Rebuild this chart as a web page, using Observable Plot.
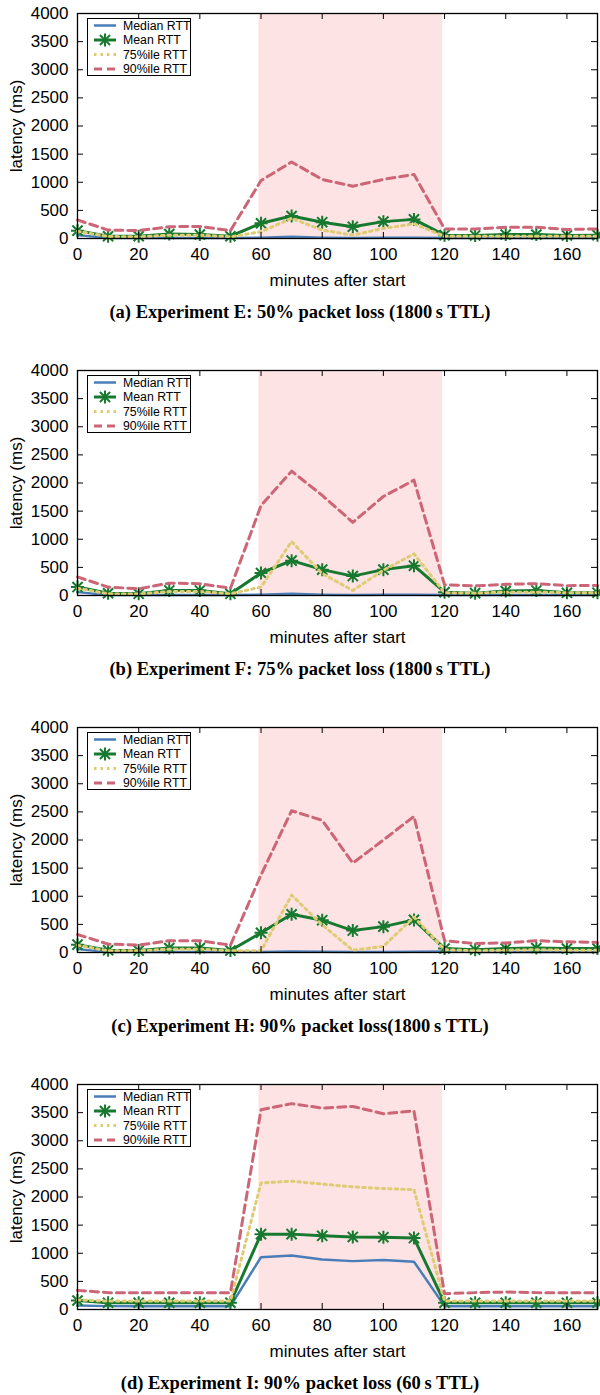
<!DOCTYPE html>
<html><head><meta charset="utf-8">
<script src="https://cdn.jsdelivr.net/npm/d3@7"></script>
<script src="https://cdn.jsdelivr.net/npm/@observablehq/plot@0.6"></script>
<style>
body{margin:0;background:#fff;width:600px;}
.panel{position:relative;width:600px;height:357px;overflow:hidden;}
.panel svg.plot{display:block;}
.caption{position:absolute;left:0;width:600px;top:300px;text-align:center;font-family:"Liberation Serif",serif;font-weight:bold;font-size:18.5px;line-height:24px;color:#000;}
.legend{position:absolute;left:87px;top:18px;width:104px;height:58px;border:1.3px solid #000;background:#fff;box-sizing:border-box;}
</style>
</head><body>
<div id="root"></div>
<script>
// ---- data ----
const minutes = [0,10,20,30,40,50,60,70,80,90,100,110,120,130,140,150,160,170];
const xTicks = [0,20,40,60,80,100,120,140,160];
const yTicks = [0,500,1000,1500,2000,2500,3000,3500,4000];
const lossWindow = [59.3, 119.3];
const seriesNames = ["Median RTT","Mean RTT","75%ile RTT","90%ile RTT"];
const captions = [
  "(a) Experiment E: 50% packet loss (1800\u2009s TTL)",
  "(b) Experiment F: 75% packet loss (1800\u2009s TTL)",
  "(c) Experiment H: 90% packet loss(1800\u2009s TTL)",
  "(d) Experiment I: 90% packet loss (60\u2009s TTL)"
];

// Experiment E
const medianE = [60,10,10,10,10,10,15,30,15,10,15,15,10,10,10,10,10,10];
const meanE   = [140,40,40,80,70,40,270,400,290,210,300,340,60,55,70,70,55,60];
const p75E    = [130,35,30,60,60,30,120,360,150,60,180,260,40,40,40,40,40,40];
const p90E    = [330,150,140,210,215,140,1030,1360,1050,930,1050,1140,170,170,200,200,160,170];
// Experiment F
const medianF = [60,10,10,10,10,10,15,30,15,10,15,15,10,10,10,10,10,10];
const meanF   = [150,40,30,90,90,30,400,620,460,345,460,530,60,42,80,90,48,50];
const p75F    = [130,30,25,70,70,30,150,960,390,90,450,740,48,42,60,60,50,50];
const p90F    = [330,150,120,220,210,130,1600,2210,1780,1300,1760,2050,190,170,200,210,175,180];
// Experiment H
const medianH = [60,10,10,10,10,10,10,20,15,10,10,15,20,10,10,10,10,10];
const meanH   = [140,40,35,80,80,35,350,680,575,390,460,580,70,50,70,80,70,70];
const p75H    = [130,30,30,60,60,30,30,1020,490,40,110,630,50,30,40,50,40,40];
const p90H    = [320,150,130,210,210,130,1380,2520,2350,1590,2000,2420,210,160,170,210,190,180];
// Experiment I
const medianI = [70,60,60,60,60,60,930,960,890,860,880,850,60,60,60,60,60,60];
const meanI   = [160,120,120,120,120,120,1340,1340,1310,1290,1285,1270,120,120,120,120,120,120];
const p75I    = [170,150,150,150,150,150,2250,2280,2230,2180,2150,2130,150,150,150,150,150,150];
const p90I    = [340,300,300,300,300,300,3550,3660,3580,3610,3480,3530,280,300,310,300,300,300];

const experiments = [
  [medianE, meanE, p75E, p90E],
  [medianF, meanF, p75F, p90F],
  [medianH, meanH, p75H, p90H],
  [medianI, meanI, p75I, p90I]
];

// ---- styles ----
const BLUE = "#4a7db8", GREEN = "#17792f", YELLOW = "#dfcb73", PINK = "#cc6677", SHADE = "#fde3e4";
const styles = [
  {stroke: BLUE,   strokeWidth: 2.5, strokeDasharray: null},
  {stroke: GREEN,  strokeWidth: 3,   strokeDasharray: null},
  {stroke: YELLOW, strokeWidth: 3,   strokeDasharray: "2.5,4"},
  {stroke: PINK,   strokeWidth: 3,   strokeDasharray: "8,5"}
];
const asterisk = {
  draw(ctx, size) {
    const r = Math.sqrt(size / Math.PI);
    const k = r * 0.78;
    ctx.moveTo(-r, 0); ctx.lineTo(r, 0);
    ctx.moveTo(0, -r); ctx.lineTo(0, r);
    ctx.moveTo(-k, -k); ctx.lineTo(k, k);
    ctx.moveTo(-k, k); ctx.lineTo(k, -k);
  }
};

const W = 600, H = 293, mL = 77, mR = 3, mT = 13, mB = 55;
const plotW = W - mL - mR, plotH = H - mT - mB;
const FONT = "'Liberation Sans', Arial, sans-serif";

const root = document.getElementById("root");
experiments.forEach((exp, pi) => {
  const panel = document.createElement("div");
  panel.className = "panel";
  const series = exp.map((vals, si) => minutes.map((m, i) => ({minute: m, value: vals[i], series: seriesNames[si]})));
  const lineMarks = series.map((rows, si) => Plot.line(rows, {x: "minute", y: "value", ...styles[si], strokeLinejoin: "round"}));
  const chart = Plot.plot({
    width: W, height: H,
    marginLeft: mL, marginRight: mR, marginTop: mT, marginBottom: mB,
    style: {fontFamily: FONT, fontSize: "17px", color: "#000", background: "#fff"},
    x: {domain: [0, 170]},
    y: {domain: [0, 4000]},
    marks: [
      Plot.rect([lossWindow], {x1: d => d[0], x2: d => d[1], fill: SHADE}),
      lineMarks[0],
      lineMarks[1],
      Plot.dot(series[1], {x: "minute", y: "value", symbol: asterisk, r: 6.5, fill: "none", stroke: GREEN, strokeWidth: 2}),
      lineMarks[2],
      lineMarks[3],
      Plot.frame({stroke: "#000", strokeWidth: 1.3}),
      Plot.tickY(yTicks, {y: d => d, insetRight: plotW - 6, stroke: "#000"}),
      Plot.tickY(yTicks, {y: d => d, insetLeft: plotW - 6, stroke: "#000"}),
      Plot.tickX(xTicks, {x: d => d, insetTop: plotH - 6, stroke: "#000"}),
      Plot.tickX(xTicks, {x: d => d, insetBottom: plotH - 6, stroke: "#000"}),
      Plot.axisY({ticks: yTicks, tickSize: 0, tickPadding: 9, tickFormat: d => String(d), fontSize: 17,
        label: "latency (ms)", labelAnchor: "center", labelOffset: 68, labelArrow: "none"}),
      Plot.axisX({ticks: xTicks, tickSize: 0, tickPadding: 9, tickFormat: d => String(d), fontSize: 17,
        label: "minutes after start", labelAnchor: "center", labelOffset: 47, labelArrow: "none"})
    ]
  });
  chart.classList.add("plot");
  panel.appendChild(chart);

  // legend
  const leg = document.createElement("div");
  leg.className = "legend";
  const svg = d3.create("svg").attr("width", 102).attr("height", 56).style("position", "absolute").style("left", "0px").style("top", "0px").style("overflow", "visible");
  seriesNames.forEach((name, si) => {
    const cy = 6.5 + si * 14.5;
    svg.append("line").attr("x1", 6).attr("x2", 28).attr("y1", cy).attr("y2", cy)
      .attr("stroke", styles[si].stroke).attr("stroke-width", styles[si].strokeWidth)
      .attr("stroke-dasharray", styles[si].strokeDasharray);
    if (si === 1) {
      const p = d3.path(); asterisk.draw(p, Math.PI * 6.5 * 6.5);
      svg.append("path").attr("d", p.toString()).attr("transform", `translate(17,${cy})`)
        .attr("stroke", GREEN).attr("stroke-width", 2).attr("fill", "none");
    }
    svg.append("text").attr("x", 35).attr("y", cy).attr("dy", "0.35em")
      .attr("font-family", FONT).attr("font-size", 12.3).text(name);
  });
  leg.appendChild(svg.node());
  panel.appendChild(leg);

  const cap = document.createElement("div");
  cap.className = "caption";
  cap.textContent = captions[pi];
  panel.appendChild(cap);
  root.appendChild(panel);
});
</script>
</body></html>
